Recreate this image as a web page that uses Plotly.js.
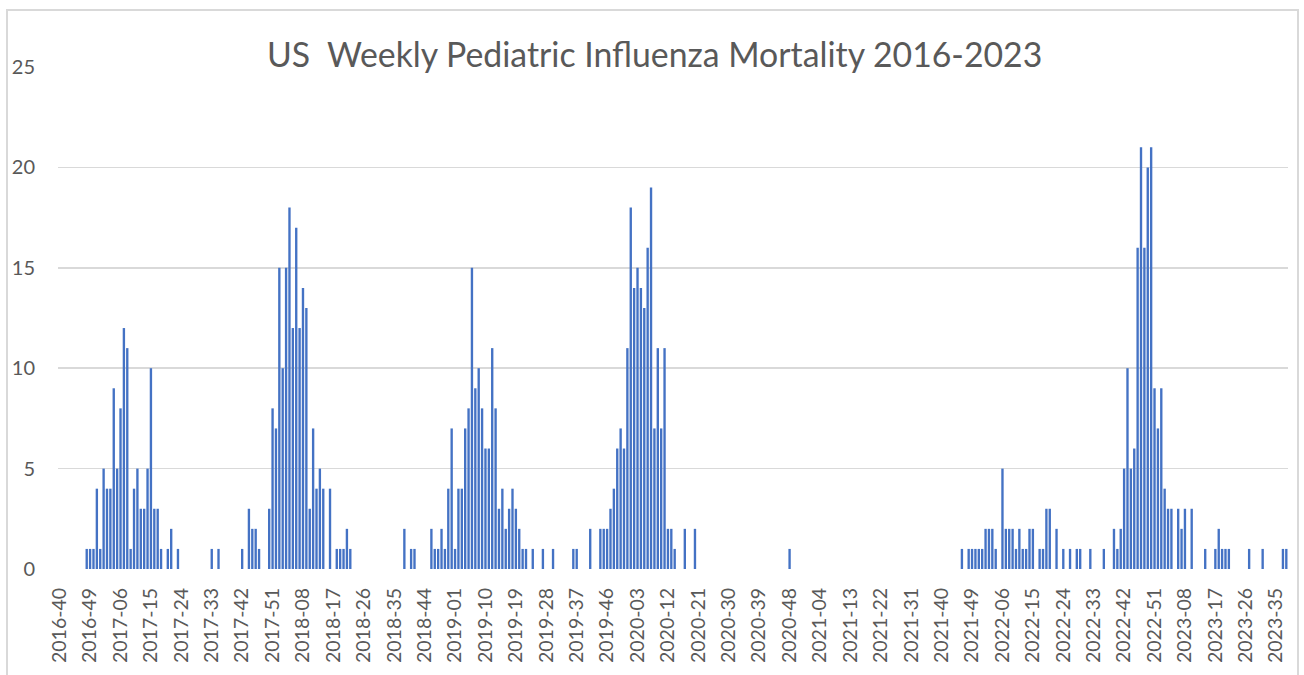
<!DOCTYPE html>
<html>
<head>
<meta charset="utf-8">
<script src="https://cdn.plot.ly/plotly-3.0.1.min.js"></script>
<style>
  html, body { margin: 0; padding: 0; background: #ffffff; overflow: hidden; }
  #chart { position: absolute; left: 0; top: 0; width: 1304px; height: 675px; }
  #frame { position: absolute; left: 6px; top: 9px; width: 1293px; height: 720px;
           border: 2px solid #d9d9d9; box-sizing: border-box; pointer-events: none; }
</style>
</head>
<body>
<div id="chart"></div>
<div id="frame"></div>
<script>
// Weekly pediatric influenza deaths, per year (2016 starts at week 40)
const startYear = 2016;
const startWeek2016 = 40;
const w2016 = [0,0,0,0,0,0,0,0,1,1,1,4,1];
const w2017 = [5,4,4,9,5,8,12,11,1,4, 5,3,3,5,10,3,3,1,0,1, 2,0,1,0,0,0,0,0,0,0, 0,0,1,0,1,0,0,0,0,0, 0,1,0,3,2,2,1,0,0,3, 8,7];
const w2018 = [15,10,15,18,12,17,12,14,13,3, 7,4,5,4,0,4,0,1,1,1, 2,1,0,0,0,0,0,0,0,0, 0,0,0,0,0,0,0,2,0,1, 1,0,0,0,0,2,1,1,2,1, 4,7];
const w2019 = [1,4,4,7,8,15,9,10,8,6, 6,11,8,3,4,2,3,4,3,2, 1,1,0,1,0,0,1,0,0,1, 0,0,0,0,0,1,1,0,0,0, 2,0,0,2,2,2,3,4,6,7, 6,11];
const w2020 = [18,14,15,14,13,16,19,7,11,7, 11,2,2,1,0,0,2,0,0,2, 0,0,0,0,0,0,0,0,0,0, 0,0,0,0,0,0,0,0,0,0, 0,0,0,0,0,0,0,1,0,0, 0,0,0];
const w2021 = [0,0,0,0,0,0,0,0,0,0, 0,0,0,0,0,0,0,0,0,0, 0,0,0,0,0,0,0,0,0,0, 0,0,0,0,0,0,0,0,0,0, 0,0,0,0,0,1,0,1,1,1, 1,1];
const w2022 = [2,2,2,1,0,5,2,2,2,1, 2,1,1,2,2,0,1,1,3,3, 0,2,0,1,0,1,0,1,1,0, 0,1,0,0,0,1,0,0,2,1, 2,5,10,5,6,16,21,16,20,21, 9,7];
const w2023 = [9,4,3,3,0,3,2,3,0,3, 0,0,0,1,0,0,1,2,1,1, 1,0,0,0,0,0,1,0,0,0, 1,0,0,0,0,0,1,1];

const yearSeries = [w2016, w2017, w2018, w2019, w2020, w2021, w2022, w2023];

const tickLabels = ['2016-40','2016-49','2017-06','2017-15','2017-24','2017-33','2017-42','2017-51',
  '2018-08','2018-17','2018-26','2018-35','2018-44','2019-01','2019-10','2019-19','2019-28','2019-37',
  '2019-46','2020-03','2020-12','2020-21','2020-30','2020-39','2020-48','2021-04','2021-13','2021-22',
  '2021-31','2021-40','2021-49','2022-06','2022-15','2022-24','2022-33','2022-42','2022-51','2023-08',
  '2023-17','2023-26','2023-35'];

const categories = [];
const deaths = [];
yearSeries.forEach(function (arr, k) {
  const year = startYear + k;
  const first = (k === 0) ? startWeek2016 : 1;
  arr.forEach(function (v, j) {
    const wk = first + j;
    categories.push(year + '-' + (wk < 10 ? '0' + wk : String(wk)));
    deaths.push(v);
  });
});

const FONT = 'Lato, "Open Sans", sans-serif';
const GREY = '#595959';

const trace = {
  type: 'bar',
  x: categories,
  y: deaths,
  marker: { color: '#4472C4', line: { width: 0 } },
  hoverinfo: 'x+y'
};

const layout = {
  width: 1304,
  height: 675,
  paper_bgcolor: '#ffffff',
  plot_bgcolor: '#ffffff',
  margin: { l: 58, r: 16, t: 67, b: 106, pad: 0 },
  showlegend: false,
  bargap: 0.3,
  title: {
    text: 'US  Weekly Pediatric Influenza Mortality 2016-2023',
    font: { family: FONT, size: 33.8, color: GREY },
    xref: 'container', yref: 'container',
    x: 0.502, xanchor: 'center',
    y: 0.919, yanchor: 'middle'
  },
  xaxis: {
    type: 'category',
    categoryorder: 'array',
    categoryarray: categories,
    range: [-0.5, categories.length - 0.5],
    tickmode: 'array',
    tickvals: tickLabels,
    ticktext: tickLabels,
    tickangle: -90,
    ticks: '',
    ticklabelstandoff: 14,
    tickfont: { family: FONT, size: 19.5, color: GREY },
    showgrid: false,
    showline: false,
    zeroline: false,
    fixedrange: true
  },
  yaxis: {
    range: [0, 25],
    tickmode: 'linear',
    tick0: 0,
    dtick: 5,
    ticks: '',
    ticklabelstandoff: 22,
    tickfont: { family: FONT, size: 20, color: GREY },
    showgrid: true,
    gridcolor: '#d9d9d9',
    gridwidth: 1.5,
    zeroline: false,
    showline: false,
    fixedrange: true
  }
};

Plotly.newPlot('chart', [trace], layout, { displayModeBar: false, staticPlot: true });
</script>
</body>
</html>
